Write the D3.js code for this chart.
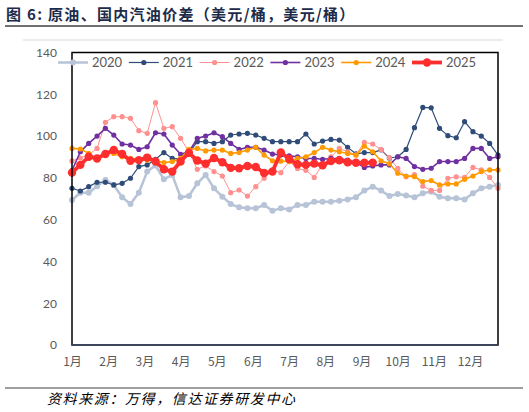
<!DOCTYPE html>
<html>
<head>
<meta charset="utf-8">
<script src="https://cdn.jsdelivr.net/npm/d3@7"></script>
<style>
  body { margin: 0; background: #fff; }
  svg { display: block; }
</style>
</head>
<body>
<div id="chart"></div>
<script>

var years = ["2020", "2021", "2022", "2023", "2024", "2025"];
var monthLabels = ["1月", "2月", "3月", "4月", "5月", "6月", "7月", "8月", "9月", "10月", "11月", "12月"];
var yTicks = [0, 20, 40, 60, 80, 100, 120, 140];

// weekly spreads, one value per week
var s2020 = [69.4, 72.9, 72.9, 76.0, 79.0, 76.6, 70.7, 67.5, 72.9, 83.0, 85.9, 79.3, 81.4,
             70.7, 71.3, 77.4, 81.4, 75.0, 71.0, 67.5, 65.9, 65.4, 65.4, 67.0, 64.3, 65.4,
             64.9, 67.0, 67.0, 68.6, 68.6, 68.6, 69.1, 69.7, 70.7, 73.9, 75.8, 73.9, 71.3,
             72.3, 71.6, 70.7, 72.6, 73.4, 71.0, 70.2, 70.2, 69.7, 72.6, 75.0, 75.8, 76.6];
var s2021 = [75.0, 73.7, 75.8, 77.9, 77.9, 76.6, 77.4, 79.8, 85.4, 86.2, 88.9, 92.1, 89.3,
             89.0, 92.0, 97.3, 97.3, 96.5, 97.3, 100.5, 101.0, 101.3, 100.5, 98.9, 97.3, 97.3,
             97.3, 97.3, 101.0, 96.2, 97.6, 98.4, 98.1, 94.6, 91.5, 92.1, 92.1, 93.4, 89.5,
             90.1, 93.6, 104.0, 113.7, 113.5, 103.7, 100.2, 99.2, 106.9, 102.1, 100.0, 96.5, 90.9];
var s2022 = [88.1, 89.5, 91.0, 94.1, 106.6, 109.3, 109.3, 108.5, 102.6, 101.3, 116.0, 103.7, 104.5,
             98.9, 92.5, 84.1, 85.7, 83.0, 80.9, 72.9, 74.2, 71.3, 75.8, 79.8, 83.8, 82.5,
             87.8, 84.5, 83.6, 80.2, 86.5, 90.0, 94.1, 92.5, 91.0, 97.0, 96.2, 93.5, 89.7,
             84.5, 80.5, 81.5, 76.0, 74.0, 74.0, 79.8, 80.5, 80.2, 85.0, 83.8, 80.2, 75.0];
var s2023 = [83.5, 92.5, 96.5, 100.0, 103.7, 100.5, 96.2, 95.7, 93.6, 94.9, 101.6, 101.0, 95.7,
             91.3, 92.5, 98.9, 100.0, 101.6, 99.7, 96.5, 93.6, 94.6, 94.6, 93.3, 91.4, 90.9,
             90.5, 90.1, 89.3, 89.3, 88.9, 89.3, 89.3, 88.5, 87.3, 85.0, 85.7, 86.2, 86.2,
             90.1, 89.3, 85.4, 84.1, 84.6, 87.8, 87.8, 87.8, 89.3, 94.1, 94.1, 89.3, 90.1];
var s2024 = [94.1, 93.8, 91.7, 88.9, 91.7, 91.7, 90.1, 89.3, 88.5, 88.5, 88.2, 87.3, 87.8,
             89.3, 93.6, 94.1, 92.9, 93.3, 93.3, 91.7, 92.1, 93.3, 94.6, 90.9, 88.2, 88.0,
             87.8, 89.3, 90.1, 92.1, 94.6, 93.3, 92.5, 91.7, 90.9, 95.2, 92.5, 88.2, 86.8,
             82.2, 80.9, 80.6, 78.2, 78.7, 76.6, 77.1, 77.1, 79.3, 80.9, 83.0, 83.8, 83.8];
var s2025 = [82.5, 86.2, 90.1, 89.3, 91.4, 93.3, 91.4, 88.2, 88.5, 89.7, 87.8, 84.1, 83.0,
             87.8, 92.0, 88.3, 86.8, 89.5, 87.5, 84.8, 84.6, 85.7, 85.2, 82.3, 83.0, 92.2,
             89.0, 86.5, 86.2, 86.8, 86.0, 88.0, 88.4, 87.5, 87.2, 87.2, 87.3];

var seriesValues = [s2020, s2021, s2022, s2023, s2024, s2025];
var seriesColors = ["#b7c3d6", "#2f4b78", "#ff9090", "#7030a0", "#ff9900", "#ff2e2e"];
var lineWidths = [2.5, 1.2, 1, 1.6, 1.6, 3.8];
var dotRadius = [3, 2.6, 2.6, 2.6, 2.6, 4.2];

var svgWidth = 529, svgHeight = 412;
var plot = {left: 72, top: 52.5, right: 498, bottom: 345};
var numFont = "Lato, 'Liberation Sans', sans-serif";
var cjkFont = "'Noto Sans CJK SC', 'Noto Sans', sans-serif";

var svg = d3.select("#chart").append("svg")
    .attr("width", svgWidth)
    .attr("height", svgHeight);

// title + rules
svg.append("text")
    .attr("x", 6)
    .attr("y", 20)
    .attr("font-family", cjkFont)
    .attr("font-size", "15px")
    .attr("font-weight", "bold")
    .attr("letter-spacing", "1.3px")
    .attr("fill", "#1c2b4a")
    .text("图 6: 原油、国内汽油价差（美元/桶，美元/桶）");

svg.append("line")
    .attr("x1", 5).attr("x2", 523).attr("y1", 26).attr("y2", 26)
    .attr("stroke", "#404040").attr("stroke-width", 1.5);

svg.append("line")
    .attr("x1", 23).attr("x2", 503).attr("y1", 40).attr("y2", 40)
    .attr("stroke", "#d9d9d9").attr("stroke-width", 1);

svg.append("line")
    .attr("x1", 5).attr("x2", 523).attr("y1", 388).attr("y2", 388)
    .attr("stroke", "#7f7f7f").attr("stroke-width", 1.5);

svg.append("text")
    .attr("x", 47)
    .attr("y", 404)
    .attr("font-family", cjkFont)
    .attr("font-size", "14px")
    .attr("font-style", "italic")
    .attr("letter-spacing", "1.6px")
    .attr("fill", "#000")
    .text("资料来源：万得，信达证券研发中心");

// scales
var xWeek = d3.scaleLinear().domain([0, 51]).range([plot.left, plot.right]);
var xMonth = d3.scalePoint().domain(monthLabels).range([72, 470]);
var y = d3.scaleLinear().domain([0, 140]).range([plot.bottom, plot.top]);

// axes
var yAxis = svg.append("g")
    .attr("transform", "translate(" + plot.left + ",0)")
    .call(d3.axisLeft(y).tickValues(yTicks).tickSize(0).tickPadding(15));
yAxis.select(".domain").remove();
yAxis.selectAll("text")
    .attr("font-family", numFont)
    .attr("font-size", "12px")
    .attr("fill", "#595959");

var xAxis = svg.append("g")
    .attr("transform", "translate(0," + plot.bottom + ")")
    .call(d3.axisBottom(xMonth).tickSize(0).tickPadding(12));
xAxis.select(".domain").remove();
xAxis.selectAll("text")
    .attr("font-family", cjkFont)
    .attr("font-size", "12px")
    .attr("fill", "#595959");

// series
var line = d3.line()
    .x(function(d, i) { return xWeek(i); })
    .y(function(d) { return y(d); });

seriesValues.forEach(function(vals, k) {
    var g = svg.append("g").attr("class", "series s" + years[k]);
    g.append("path")
        .datum(vals)
        .attr("d", line)
        .attr("fill", "none")
        .attr("stroke", seriesColors[k])
        .attr("stroke-width", lineWidths[k])
        .attr("stroke-linejoin", "round");
    g.selectAll("circle")
        .data(vals)
        .enter().append("circle")
        .attr("cx", function(d, i) { return xWeek(i); })
        .attr("cy", function(d) { return y(d); })
        .attr("r", dotRadius[k])
        .attr("fill", seriesColors[k]);
});

// plot frame
svg.append("rect")
    .attr("x", plot.left)
    .attr("y", plot.top)
    .attr("width", plot.right - plot.left)
    .attr("height", plot.bottom - plot.top)
    .attr("fill", "none")
    .attr("stroke", "#000")
    .attr("stroke-width", 1.5);

svg.append("line")
    .attr("x1", plot.left).attr("x2", plot.right)
    .attr("y1", plot.bottom).attr("y2", plot.bottom)
    .attr("stroke", "#3b4a66").attr("stroke-width", 1.5);

// legend
var legendX = d3.scalePoint().domain(years).range([58, 412]);
var legend = svg.append("g").attr("transform", "translate(0,62.5)");
years.forEach(function(yr, k) {
    var lx = legendX(yr);
    legend.append("line")
        .attr("x1", lx).attr("x2", lx + 30)
        .attr("stroke", seriesColors[k])
        .attr("stroke-width", lineWidths[k]);
    legend.append("circle")
        .attr("cx", lx + 15)
        .attr("r", dotRadius[k])
        .attr("fill", seriesColors[k]);
    legend.append("text")
        .attr("x", lx + 34)
        .attr("dy", "0.35em")
        .attr("font-family", numFont)
        .attr("font-size", "13px")
        .attr("fill", "#595959")
        .text(yr);
});

</script>
</body>
</html>
